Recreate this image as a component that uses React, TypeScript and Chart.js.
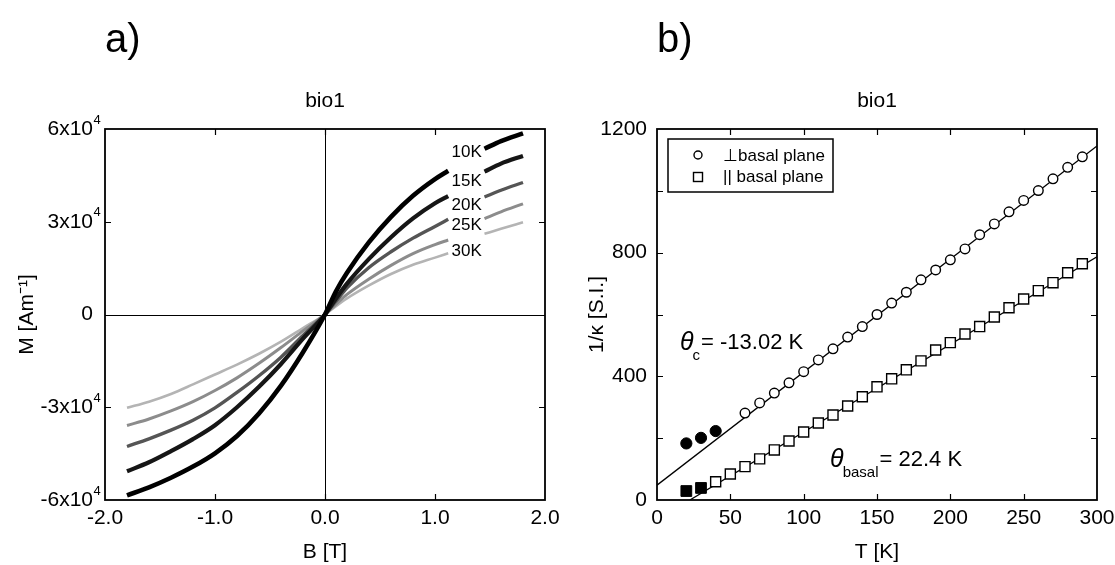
import React, { useEffect, useRef } from "react";
import { Chart, registerables } from "chart.js";

Chart.register(...registerables);

const FONT = "'Liberation Sans', Arial, Helvetica, sans-serif";

// ---------------- Panel a: magnetisation curves ----------------
const fieldB = [-1.8, -1.6, -1.4, -1.2, -1.0, -0.8, -0.6, -0.4, -0.2, 0, 0.1, 0.2, 0.4, 0.6, 0.8, 1.0, 1.12, 1.3, 1.45, 1.6, 1.8];
const m10K = [-58500, -55900, -52800, -49200, -44900, -39300, -32000, -23000, -12200, 0, 7500, 13500, 23400, 31600, 38400, 43800, 46500, null, 53600, 56100, 58600];
const m15K = [-50700, -47800, -44200, -40300, -35800, -30000, -23400, -16000, -7800, 0, 5200, 10000, 18000, 25000, 31100, 36000, 38300, null, 46200, 48800, 51300];
const m20K = [-42700, -40200, -37400, -34200, -30200, -25200, -19800, -13800, -6800, 0, 4300, 8600, 15200, 20300, 24700, 28500, 30800, null, 38000, 40200, 42700];
const m25K = [-35900, -33800, -31200, -28200, -24600, -20500, -15800, -10700, -5300, 0, 3300, 6500, 11500, 15900, 19700, 22600, 24100, null, 31000, 33200, 35800];
const m30K = [-30200, -28200, -25700, -22600, -19400, -16200, -12700, -8800, -4400, 0, 2700, 5200, 9400, 13100, 16100, 18400, 19800, null, 26100, 27700, 29800];
const curveNames = ["10K", "15K", "20K", "25K", "30K"];
const curveLabelB = 1.15;
const curveLabelM = [52400, 43200, 35300, 28700, 20300];
const yTicksA = [-60000, -30000, 0, 30000, 60000];
const yTickMainA = ["-6x10", "-3x10", "0", "3x10", "6x10"];
const yTickSupA = ["4", "4", "", "4", "4"];

// ---------------- Panel b: inverse susceptibility ----------------
const tPerp = [60, 70, 80, 90, 100, 110, 120, 130, 140, 150, 160, 170, 180, 190, 200, 210, 220, 230, 240, 250, 260, 270, 280, 290];
const invKPerp = [281, 314, 346, 379, 415, 453, 489, 527, 561, 600, 637, 672, 712, 744, 777, 812, 858, 893, 932, 969, 1001, 1039, 1076, 1110];
const tPerpLow = [20, 30, 40];
const invKPerpLow = [183, 201, 223];
const tPar = [40, 50, 60, 70, 80, 90, 100, 110, 120, 130, 140, 150, 160, 170, 180, 190, 200, 210, 220, 230, 240, 250, 260, 270, 280, 290];
const invKPar = [59, 84, 108, 133, 162, 191, 220, 249, 275, 304, 334, 366, 392, 421, 450, 485, 509, 537, 561, 592, 622, 650, 677, 703, 735, 764];
const tParLow = [20, 30];
const invKParLow = [29, 39];
const fitPerpT = [0, 300];
const fitPerpV = [48, 1145];
const fitParT = [22.4, 300];
const fitParV = [0, 787];
const legendLabels = ["⊥basal plane", "|| basal plane"];

const pts = (xs: number[], ys: (number | null)[]) => xs.map((x, i) => ({ x, y: ys[i] }));

function drawFrameAndTicks(chart: any, len: number) {
  const { ctx, chartArea: ca, scales } = chart;
  const x = scales.x;
  const y = scales.y;
  ctx.save();
  ctx.strokeStyle = "#000";
  ctx.lineWidth = 1.2;
  ctx.beginPath();
  x.ticks.forEach((t: any) => {
    if (t.value === x.min || t.value === x.max) return;
    const px = Math.round(x.getPixelForValue(t.value)) + 0.5;
    ctx.moveTo(px, ca.bottom);
    ctx.lineTo(px, ca.bottom - len);
    ctx.moveTo(px, ca.top);
    ctx.lineTo(px, ca.top + len);
  });
  y.ticks.forEach((t: any) => {
    if (t.value === y.min || t.value === y.max) return;
    const py = Math.round(y.getPixelForValue(t.value)) + 0.5;
    ctx.moveTo(ca.left, py);
    ctx.lineTo(ca.left + len, py);
    ctx.moveTo(ca.right, py);
    ctx.lineTo(ca.right - len, py);
  });
  ctx.stroke();
  ctx.lineWidth = 1.8;
  ctx.strokeRect(ca.left, ca.top, ca.right - ca.left, ca.bottom - ca.top);
  ctx.restore();
}

const panelAPlugin = {
  id: "panelA",
  beforeDatasetsDraw(chart: any) {
    const { ctx, chartArea: ca, scales } = chart;
    const x0 = Math.round(scales.x.getPixelForValue(0)) + 0.5;
    const y0 = Math.round(scales.y.getPixelForValue(0)) + 0.5;
    ctx.save();
    ctx.strokeStyle = "#000";
    ctx.lineWidth = 1;
    ctx.beginPath();
    ctx.moveTo(x0, ca.top);
    ctx.lineTo(x0, ca.bottom);
    ctx.moveTo(ca.left, y0);
    ctx.lineTo(ca.right, y0);
    ctx.stroke();
    ctx.restore();
  },
  afterDatasetsDraw(chart: any) {
    const { ctx, chartArea: ca, scales } = chart;
    drawFrameAndTicks(chart, 6);
    ctx.save();
    ctx.fillStyle = "#000";
    ctx.font = `17px ${FONT}`;
    ctx.textAlign = "left";
    ctx.textBaseline = "middle";
    curveNames.forEach((n, i) => {
      ctx.fillText(n, scales.x.getPixelForValue(curveLabelB), scales.y.getPixelForValue(curveLabelM[i]));
    });
    // y tick labels with superscript exponents
    const right = ca.left - 12;
    yTicksA.forEach((v, i) => {
      const py = scales.y.getPixelForValue(v);
      ctx.font = `21px ${FONT}`;
      ctx.textAlign = "right";
      ctx.textBaseline = "middle";
      ctx.fillText(yTickMainA[i], right, py);
      if (yTickSupA[i]) {
        ctx.font = `13px ${FONT}`;
        ctx.textAlign = "left";
        ctx.fillText(yTickSupA[i], right + 0.5, py - 9);
      }
    });
    ctx.restore();
  },
};

function drawTheta(ctx: CanvasRenderingContext2D, x: number, y: number, sub: string, rest: string) {
  ctx.save();
  ctx.fillStyle = "#000";
  ctx.textBaseline = "middle";
  ctx.textAlign = "left";
  ctx.font = `italic 25px ${FONT}`;
  ctx.fillText("θ", x, y);
  let cx = x + ctx.measureText("θ").width - 1;
  ctx.font = `15px ${FONT}`;
  ctx.fillText(sub, cx, y + 13);
  cx += ctx.measureText(sub).width + 1;
  ctx.font = `22px ${FONT}`;
  ctx.fillText(rest, cx, y);
  ctx.restore();
}

const panelBPlugin = {
  id: "panelB",
  afterDatasetsDraw(chart: any) {
    const { ctx, chartArea: ca, scales } = chart;
    drawFrameAndTicks(chart, 6);
    const bx = ca.left + 11;
    const by = ca.top + 10;
    ctx.save();
    ctx.fillStyle = "#fff";
    ctx.fillRect(bx, by, 165, 53);
    ctx.strokeStyle = "#000";
    ctx.lineWidth = 1.5;
    ctx.strokeRect(bx, by, 165, 53);
    ctx.lineWidth = 1.4;
    ctx.beginPath();
    ctx.arc(bx + 30, by + 16, 4, 0, Math.PI * 2);
    ctx.stroke();
    ctx.strokeRect(bx + 25.5, by + 33.5, 9, 9);
    ctx.fillStyle = "#000";
    ctx.font = `17px ${FONT}`;
    ctx.textBaseline = "middle";
    ctx.textAlign = "left";
    ctx.fillText(legendLabels[0], bx + 55, by + 17);
    ctx.fillText(legendLabels[1], bx + 55, by + 38);
    ctx.restore();
    drawTheta(ctx, scales.x.getPixelForValue(15.7), scales.y.getPixelForValue(508), "c", "= -13.02 K");
    drawTheta(ctx, scales.x.getPixelForValue(118), scales.y.getPixelForValue(129), "basal", "= 22.4 K");
  },
};

const tickFont = { size: 21, family: FONT };

function baseOptions(panel: string, yTitle: string, xTitle: string, yWidth: number, padRight: number, yTitlePad: number) {
  return {
    responsive: false,
    animation: false as const,
    devicePixelRatio: 1,
    layout: { padding: { left: 0, top: 0, right: padRight, bottom: 0 } },
    plugins: {
      legend: { display: false },
      tooltip: { enabled: false },
      title: {
        display: true,
        text: panel,
        align: "start" as const,
        fullSize: false,
        color: "#000",
        font: { size: 40, family: FONT, weight: "normal" as const, lineHeight: 1.2 },
        padding: { top: 17, bottom: 23.4 },
      },
      subtitle: {
        display: true,
        text: "bio1",
        fullSize: false,
        color: "#000",
        font: { size: 21, family: FONT, weight: "normal" as const, lineHeight: 1.2 },
        padding: { top: 0, bottom: 15.4 },
      },
    },
    scales: {
      x: {
        type: "linear" as const,
        position: "bottom" as const,
        grid: { display: false, drawTicks: false },
        border: { display: false },
        title: { display: true, text: xTitle, color: "#000", font: tickFont, padding: { top: 0, bottom: 0 } },
        afterFit: (s: any) => {
          s.height = 65;
          s.paddingLeft = 0;
          s.paddingRight = 0;
        },
      },
      y: {
        type: "linear" as const,
        position: "left" as const,
        grid: { display: false, drawTicks: false },
        border: { display: false },
        title: { display: true, text: yTitle, color: "#000", font: tickFont, padding: { top: yTitlePad, bottom: 0 } },
        afterFit: (s: any) => {
          s.width = yWidth;
          s.paddingTop = 0;
          s.paddingBottom = 0;
        },
      },
    },
  };
}

export default function App() {
  const refA = useRef<HTMLCanvasElement | null>(null);
  const refB = useRef<HTMLCanvasElement | null>(null);

  useEffect(() => {
    const optsA: any = baseOptions("a)", "M [Am⁻¹]", "B [T]", 105, 55, 15);
    optsA.scales.x.min = -2;
    optsA.scales.x.max = 2;
    optsA.scales.x.ticks = { stepSize: 1, autoSkip: false, padding: 6, color: "#000", font: tickFont, maxRotation: 0, callback: (v: number) => v.toFixed(1) };
    optsA.scales.y.min = -60000;
    optsA.scales.y.max = 60000;
    optsA.scales.y.ticks = { stepSize: 30000, autoSkip: false, display: false };

    const seriesA = [m10K, m15K, m20K, m25K, m30K];
    const colorsA = ["#000000", "#161616", "#555555", "#8c8c8c", "#b4b4b4"];
    const widthsA = [4.6, 4.2, 3.4, 3.0, 2.6];

    const chartA = new Chart(refA.current as HTMLCanvasElement, {
      type: "scatter",
      data: {
        datasets: seriesA.map((s, i) => ({
          label: curveNames[i],
          data: pts(fieldB, s),
          showLine: true,
          spanGaps: false,
          pointRadius: 0,
          borderColor: colorsA[i],
          backgroundColor: colorsA[i],
          borderWidth: widthsA[i],
          cubicInterpolationMode: "monotone" as const,
        })),
      },
      options: optsA,
      plugins: [panelAPlugin],
    });

    const optsB: any = baseOptions("b)", "1/κ [S.I.]", "T [K]", 117, 18, 45);
    optsB.scales.x.min = 0;
    optsB.scales.x.max = 300;
    optsB.scales.x.ticks = { stepSize: 50, autoSkip: false, padding: 6, color: "#000", font: tickFont, maxRotation: 0 };
    optsB.scales.y.min = 0;
    optsB.scales.y.max = 1200;
    optsB.scales.y.ticks = {
      stepSize: 200,
      autoSkip: false,
      padding: 10,
      color: "#000",
      font: tickFont,
      callback: (v: number) => (v % 400 === 0 ? String(v) : ""),
    };

    const chartB = new Chart(refB.current as HTMLCanvasElement, {
      type: "scatter",
      data: {
        datasets: [
          { label: legendLabels[0], data: pts(tPerp, invKPerp), pointStyle: "circle", pointRadius: 4.8, borderWidth: 1.4, borderColor: "#000", backgroundColor: "#fff" },
          { label: "perp low T", data: pts(tPerpLow, invKPerpLow), pointStyle: "circle", pointRadius: 5.6, borderWidth: 1, borderColor: "#000", backgroundColor: "#000" },
          { label: legendLabels[1], data: pts(tPar, invKPar), pointStyle: "rect", pointRadius: 7.1, borderWidth: 1.4, borderColor: "#000", backgroundColor: "#fff" },
          { label: "par low T", data: pts(tParLow, invKParLow), pointStyle: "rect", pointRadius: 7.6, borderWidth: 1, borderColor: "#000", backgroundColor: "#000" },
          { label: "fit perp", data: pts(fitPerpT, fitPerpV), showLine: true, pointRadius: 0, borderWidth: 1.3, borderColor: "#000" },
          { label: "fit par", data: pts(fitParT, fitParV), showLine: true, pointRadius: 0, borderWidth: 1.3, borderColor: "#000" },
        ],
      },
      options: optsB,
      plugins: [panelBPlugin],
    });

    return () => {
      chartA.destroy();
      chartB.destroy();
    };
  }, []);

  return (
    <div style={{ position: "absolute", left: 0, top: 0, width: 1115, height: 565, background: "#fff", overflow: "hidden" }}>
      <canvas ref={refA} width={600} height={565} style={{ position: "absolute", left: 0, top: 0, width: 600, height: 565 }} />
      <canvas ref={refB} width={575} height={565} style={{ position: "absolute", left: 540, top: 0, width: 575, height: 565 }} />
    </div>
  );
}
